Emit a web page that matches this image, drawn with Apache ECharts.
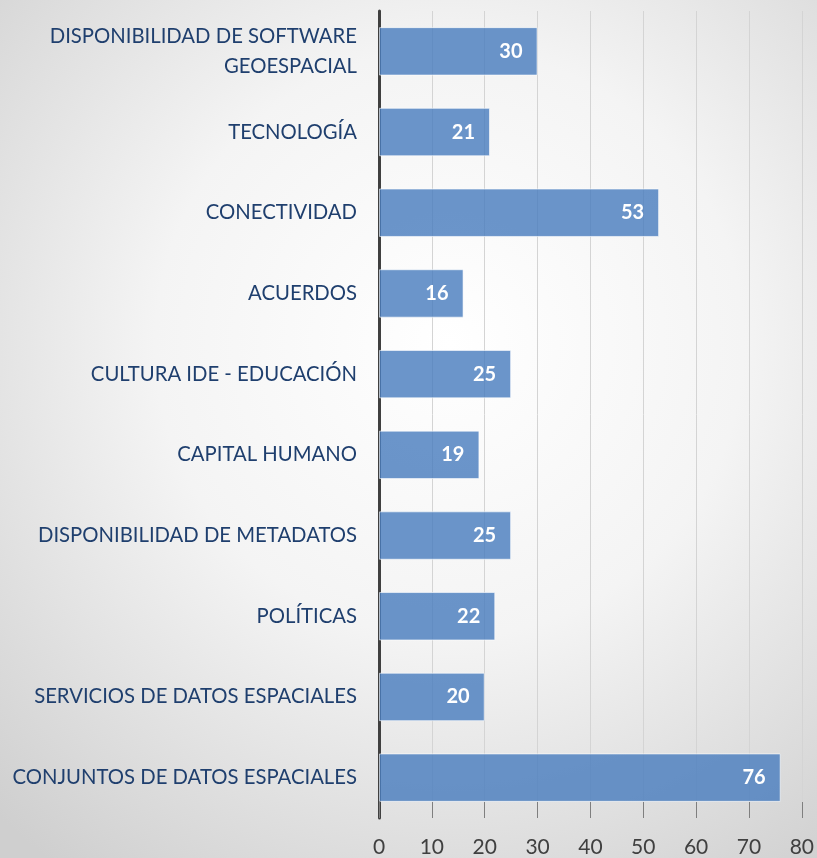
<!DOCTYPE html>
<html>
<head>
<meta charset="utf-8">
<script src="https://cdn.jsdelivr.net/npm/echarts@6/dist/echarts.min.js"></script>
<style>
  html, body { margin: 0; padding: 0; }
  #chart { width: 817px; height: 858px; }
</style>
</head>
<body>
<div id="chart"></div>
<script>
// categoria (de arriba hacia abajo) y valores
const categorias = [
  'DISPONIBILIDAD DE SOFTWARE\nGEOESPACIAL',
  'TECNOLOGÍA',
  'CONECTIVIDAD',
  'ACUERDOS',
  'CULTURA IDE - EDUCACIÓN',
  'CAPITAL HUMANO',
  'DISPONIBILIDAD DE METADATOS',
  'POLÍTICAS',
  'SERVICIOS DE DATOS ESPACIALES',
  'CONJUNTOS DE DATOS ESPACIALES'
]
const valores = [30, 21, 53, 16, 25, 19, 25, 22, 20, 76]

const myChart = echarts.init(document.getElementById('chart'))
myChart.setOption({
  animation: false,
  backgroundColor: {
    type: 'radial',
    x: 0.55, y: 0.4, r: 0.8,
    colorStops: [
      { offset: 0, color: '#ffffff' },
      { offset: 0.45, color: '#f4f4f4' },
      { offset: 1, color: '#cfcfcf' }
    ]
  },
  grid: {
    left: 379,
    right: 14,
    top: 11,
    bottom: 40,
    containLabel: false
  },
  xAxis: {
    type: 'value',
    min: 0,
    max: 80,
    interval: 10,
    axisLine: { show: false },
    axisTick: {
      show: true,
      inside: true,
      length: 16,
      lineStyle: { color: '#7f7f7f', width: 1 }
    },
    splitLine: {
      show: true,
      lineStyle: { color: '#d4d4d4', width: 1 }
    },
    axisLabel: {
      color: '#404040',
      fontSize: 21,
      fontFamily: 'Lato',
      margin: 19
    }
  },
  yAxis: {
    type: 'category',
    data: categorias,
    inverse: true,
    axisLine: {
      show: true,
      lineStyle: { color: '#404040', width: 3 }
    },
    axisTick: { show: false },
    axisLabel: {
      color: '#1f3f6e',
      fontSize: 20.3,
      fontFamily: 'Lato',
      margin: 22,
      lineHeight: 30,
      align: 'right',
      padding: [4, 0, 0, 0]
    }
  },
  series: [
    {
      type: 'bar',
      data: valores,
      barCategoryGap: '40%',
      itemStyle: {
        color: 'rgba(74, 126, 190, 0.82)',
        borderColor: 'rgba(255,255,255,0.6)',
        borderWidth: 1
      },
      label: {
        show: true,
        position: 'insideRight',
        distance: 15,
        color: '#ffffff',
        fontWeight: 'bold',
        fontSize: 20,
        fontFamily: 'Lato'
      }
    }
  ]
})
</script>
</body>
</html>
